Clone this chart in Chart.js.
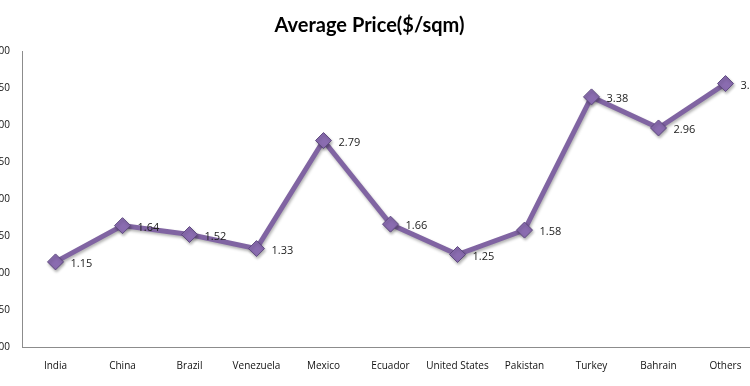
<!DOCTYPE html>
<html>
<head>
<meta charset="utf-8">
<script src="https://cdn.jsdelivr.net/npm/chart.js@4/dist/chart.umd.min.js"></script>
<style>
html,body{margin:0;padding:0;background:#fff;overflow:hidden;}
#wrap{position:absolute;left:-20px;top:0;width:790px;height:386px;}
</style>
</head>
<body>
<div id="wrap"><canvas id="c"></canvas></div>
<script>
const categories = ["India","China","Brazil","Venezuela","Mexico","Ecuador","United States","Pakistan","Turkey","Bahrain","Others"];
const prices = [1.15,1.64,1.52,1.33,2.79,1.66,1.25,1.58,3.38,2.96,3.56];
const chartTitle = "Average Price($/sqm)";

const labelPlugin = {
  id: 'pointLabels',
  afterDatasetsDraw(chart) {
    const ctx = chart.ctx;
    const meta = chart.getDatasetMeta(0);
    ctx.save();
    ctx.font = '11px "Open Sans", sans-serif';
    ctx.fillStyle = '#222';
    ctx.textAlign = 'left';
    ctx.textBaseline = 'middle';
    meta.data.forEach((pt, i) => {
      ctx.fillText(prices[i].toFixed(2), pt.x + 15, pt.y + 2);
    });
    ctx.restore();
  }
};
const shadowPlugin = {
  id: 'shadow',
  beforeDatasetDraw(chart) {
    const ctx = chart.ctx;
    ctx.save();
    ctx.shadowColor = 'rgba(0,0,0,0.3)';
    ctx.shadowBlur = 3;
    ctx.shadowOffsetX = 1;
    ctx.shadowOffsetY = 2;
  },
  afterDatasetDraw(chart) {
    chart.ctx.restore();
  }
};

new Chart(document.getElementById('c'), {
  type: 'line',
  data: {
    labels: categories,
    datasets: [{
      data: prices,
      borderColor: '#8064A2',
      borderWidth: 5,
      backgroundColor: '#8064A2',
      pointStyle: 'rectRot',
      pointRadius: 8,
      pointBorderColor: '#5f4a80',
      pointBorderWidth: 1,
      pointBackgroundColor: '#8a6cb0',
      tension: 0
    }]
  },
  options: {
    responsive: true,
    maintainAspectRatio: false,
    animation: false,
    layout: { padding: { left: 0, right: 11, top: 0, bottom: 1 } },
    plugins: {
      legend: { display: false },
      tooltip: { enabled: false },
      title: {
        display: true,
        text: chartTitle,
        color: '#000',
        font: { family: 'Lato, "Open Sans", sans-serif', size: 20, weight: 'bold' },
        padding: { top: 14, bottom: 13 }
      }
    },
    scales: {
      x: {
        offset: true,
        grid: { display: false, drawTicks: false },
        border: { display: true, color: '#8c8c8c', width: 1 },
        ticks: {
          color: '#111',
          font: { family: '"Open Sans", sans-serif', size: 10 },
          padding: 13,
          maxRotation: 0,
          autoSkip: false
        }
      },
      y: {
        min: 0,
        max: 4,
        grid: { display: false, drawTicks: false },
        border: { display: true, color: '#8c8c8c', width: 1 },
        afterFit(scale) { scale.width = 42; },
        ticks: {
          stepSize: 0.5,
          color: '#111',
          font: { family: '"Open Sans", sans-serif', size: 10 },
          padding: 12,
          callback: v => Number(v).toFixed(2)
        }
      }
    }
  },
  plugins: [shadowPlugin, labelPlugin]
});
</script>
</body>
</html>
